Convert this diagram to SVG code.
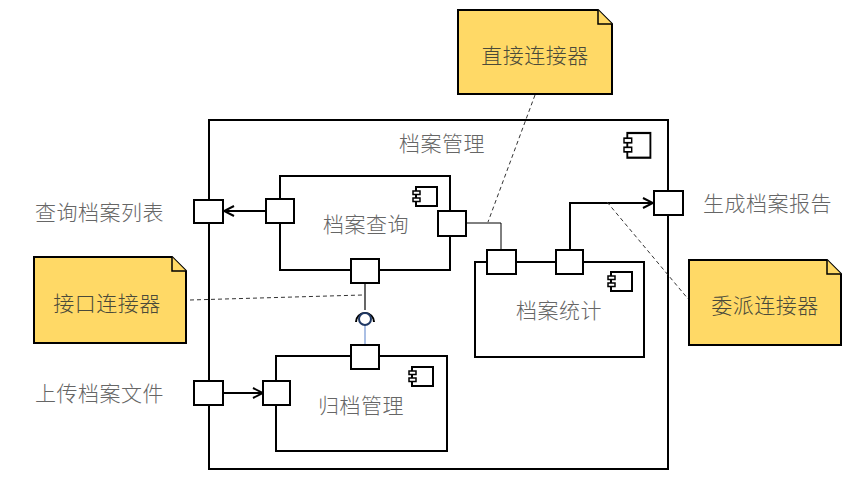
<svg xmlns="http://www.w3.org/2000/svg" width="865" height="488" viewBox="0 0 865 488">
<style>
.box{fill:#fff;stroke:#000;stroke-width:2}
.port{fill:#fff;stroke:#000;stroke-width:2}
.ico{fill:#fff;stroke:#000;stroke-width:2}
.note{fill:#FFD966;stroke:#000;stroke-width:2;stroke-linejoin:miter}
.fold{fill:#FFD966;stroke:#000;stroke-width:1.5}
.lbl{font-family:"Noto Sans CJK SC","Noto Sans CJK TC",sans-serif;font-size:21px;letter-spacing:0.5px;font-weight:300;fill:#666}
.ntxt{font-family:"Noto Sans CJK SC","Noto Sans CJK TC",sans-serif;font-size:21px;letter-spacing:0.5px;font-weight:300;fill:#4a4a3a}
.thin{fill:none;stroke:#000;stroke-width:1}
.line{fill:none;stroke:#000;stroke-width:2}
.dash{fill:none;stroke:#333;stroke-width:1;stroke-dasharray:4 3}
</style>
<defs>
<marker id="open" viewBox="0 0 12 12" refX="11" refY="6" markerWidth="12" markerHeight="12" markerUnits="userSpaceOnUse" orient="auto">
<path d="M1,1 L11,6 L1,11" fill="none" stroke="#000" stroke-width="2"/>
</marker>
<g id="icon">
<rect x="3" y="0" width="21" height="19" class="ico"/>
<rect x="0" y="4" width="7" height="3.5" fill="#fff" stroke="#000" stroke-width="1.5"/>
<rect x="0" y="11" width="7" height="3.5" fill="#fff" stroke="#000" stroke-width="1.5"/>
</g>
</defs>

<g id="outer">
<rect x="209" y="120" width="459" height="349" class="box"/>
<text x="442" y="151" text-anchor="middle" class="lbl">档案管理</text>
<g transform="translate(624,133) scale(1.1,1.3)">
<rect x="3" y="0" width="21" height="19" fill="#fff" stroke="#000" stroke-width="1.7"/>
<rect x="0" y="4" width="7" height="3.5" fill="#fff" stroke="#000" stroke-width="1.3"/>
<rect x="0" y="11" width="7" height="3.5" fill="#fff" stroke="#000" stroke-width="1.3"/>
</g>
</g>

<g id="query">
<rect x="280" y="176" width="170" height="94" class="box"/>
<use href="#icon" x="413" y="187"/>
<text x="366" y="232" text-anchor="middle" class="lbl">档案查询</text>
</g>

<g id="stats">
<rect x="475" y="262" width="169" height="95" class="box"/>
<use href="#icon" x="608" y="272"/>
<text x="559" y="318" text-anchor="middle" class="lbl">档案统计</text>
</g>

<g id="archive">
<rect x="276" y="356" width="171" height="95" class="box"/>
<use href="#icon" x="409" y="367"/>
<text x="361" y="413" text-anchor="middle" class="lbl">归档管理</text>
</g>

<g id="connectors">
<line x1="266" y1="211" x2="224" y2="211" class="line" marker-end="url(#open)"/>
<line x1="223" y1="393" x2="263" y2="393" class="line" marker-end="url(#open)"/>
<polyline points="466,223 501,223 501,250" class="thin"/>
<polyline points="570,250 570,203 653,203" class="line" marker-end="url(#open)"/>
<line x1="365" y1="283" x2="365" y2="310" stroke="#000" stroke-width="1.2"/>
<path d="M356,322 A9,9 0 0 1 374,322" fill="none" stroke="#000" stroke-width="2"/>
<line x1="365" y1="325" x2="365" y2="345" stroke="#8EAADB" stroke-width="1.5"/>
<circle cx="365" cy="319" r="6" fill="#fff" stroke="#1F3864" stroke-width="2"/>
<line x1="535" y1="95" x2="488" y2="222" class="dash"/>
<line x1="190" y1="300" x2="363" y2="295" class="dash"/>
<line x1="607" y1="202" x2="689" y2="300" class="dash"/>
</g>

<g id="ports">
<rect x="194" y="200" width="29" height="23" class="port"/>
<rect x="266" y="199" width="28" height="24" class="port"/>
<rect x="438" y="211" width="28" height="25" class="port"/>
<rect x="351" y="259" width="28" height="24" class="port"/>
<rect x="351" y="345" width="28" height="24" class="port"/>
<rect x="263" y="381" width="27" height="24" class="port"/>
<rect x="194" y="381" width="29" height="24" class="port"/>
<rect x="487" y="250" width="29" height="24" class="port"/>
<rect x="556" y="250" width="27" height="24" class="port"/>
<rect x="654" y="191" width="29" height="24" class="port"/>
</g>

<g id="labels">
<text x="35" y="220" class="lbl">查询档案列表</text>
<text x="35" y="401" class="lbl">上传档案文件</text>
<text x="703" y="211" class="lbl">生成档案报告</text>
</g>

<g id="note-direct">
<path d="M458,10 L598,10 L612,24 L612,94 L458,94 Z" class="note"/>
<path d="M598,10 L598,24 L612,24" class="fold"/>
<text x="535" y="63" text-anchor="middle" class="ntxt">直接连接器</text>
</g>

<g id="note-interface">
<path d="M34,257 L172,257 L186,271 L186,343 L34,343 Z" class="note"/>
<path d="M172,257 L172,271 L186,271" class="fold"/>
<text x="107" y="311" text-anchor="middle" class="ntxt">接口连接器</text>
</g>

<g id="note-delegate">
<path d="M689,260 L827,260 L841,274 L841,345 L689,345 Z" class="note"/>
<path d="M827,260 L827,274 L841,274" class="fold"/>
<text x="765" y="313" text-anchor="middle" class="ntxt">委派连接器</text>
</g>
</svg>
